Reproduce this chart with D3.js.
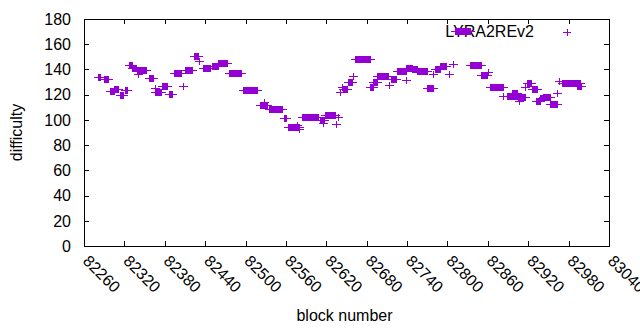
<!DOCTYPE html>
<html lang="en">
<head>
    <meta charset="UTF-8">
    <title>difficulty</title>
    <script src="https://d3js.org/d3.v7.min.js"></script>
    <style>
        body { margin: 0; background: #fff; }
        text { font-family: "Liberation Sans", Arial, sans-serif; font-size: 16px; fill: #000; }
    </style>
</head>
<body>
    <svg width="640" height="330"></svg>
    <script>
        // runs of consecutive blocks with the same difficulty: [first block, last block, difficulty]
        var blockStart = [82281, 82290, 82299, 82305, 82313, 82321, 82327, 82331, 82339, 82340,
            82357, 82365, 82366, 82376, 82386, 82394, 82407, 82410, 82423, 82431,
            82437, 82450, 82459, 82475, 82496, 82521, 82528, 82535, 82557, 82563,
            82576, 82580, 82584, 82610, 82615, 82618, 82634, 82637, 82640, 82644,
            82645, 82652, 82660, 82663, 82685, 82689, 82695, 82713, 82716, 82725,
            82738, 82738, 82747, 82755, 82770, 82778, 82781, 82789, 82802, 82808,
            82811, 82833, 82850, 82860, 82863, 82882, 82888, 82896, 82905, 82906,
            82915, 82918, 82926, 82932, 82938, 82942, 82952, 82963, 82966, 82970, 82993];
        var blockEnd = [82284, 82296, 82305, 82311, 82318, 82324, 82331, 82337, 82352, 82340,
            82363, 82365, 82374, 82383, 82391, 82404, 82407, 82420, 82429, 82431,
            82447, 82459, 82472, 82493, 82517, 82532, 82528, 82554, 82560, 82579,
            82576, 82580, 82607, 82616, 82615, 82633, 82634, 82637, 82640, 82644,
            82651, 82658, 82660, 82685, 82689, 82695, 82712, 82713, 82724, 82738,
            82738, 82747, 82755, 82769, 82778, 82778, 82789, 82798, 82802, 82808,
            82833, 82850, 82859, 82860, 82882, 82882, 82903, 82903, 82915, 82906,
            82915, 82924, 82933, 82938, 82942, 82952, 82963, 82963, 82966, 82997, 82999];
        var difficulty = [134, 132.5, 123, 124.5, 119.5, 123.7, 143.5, 141, 139.3, 136.4,
            133.2, 125.5, 122.4, 127, 120.8, 137.2, 127, 139.3, 151, 146.7,
            141, 143, 144.8, 137, 123.7, 111.8, 114.4, 108.6, 101.3, 94.7,
            96, 92.5, 101.9, 100, 97.3, 103.9, 96.7, 102.5, 122.4, 125.8,
            124.2, 130.3, 134.8, 148, 125.8, 129.8, 135, 127.4, 132.4, 138.8,
            131.6, 141, 140.4, 138.8, 125, 136.4, 140.5, 143, 136.4, 144.3,
            170.5, 143.5, 135.6, 138.2, 125.8, 119, 119, 121, 118.4, 115.2,
            126.3, 129, 124.2, 115, 117, 118.4, 112.6, 121, 130.8, 129, 127];
        var xTicks = [82260, 82320, 82380, 82440, 82500, 82560, 82620, 82680, 82740, 82800, 82860, 82920, 82980, 83040];
        var yTicks = [0, 20, 40, 60, 80, 100, 120, 140, 160, 180];
        var seriesName = 'LYRA2REv2';

        var color = '#9400d3';
        var plotLeft = 84, plotRight = 609, plotTop = 19, plotBottom = 246;
        var svg = d3.select('svg');

        var x = d3.scaleLinear().domain([82260, 83040]).range([plotLeft, plotRight]);
        var y = d3.scaleLinear().domain([0, 180]).range([plotBottom, plotTop]);

        // ticks on all four sides, pointing inwards
        svg.append('g').attr('transform', 'translate(0,' + plotBottom + ')')
            .call(d3.axisBottom(x).tickValues(xTicks).tickSize(-5).tickFormat(''));
        svg.append('g').attr('transform', 'translate(0,' + plotTop + ')')
            .call(d3.axisTop(x).tickValues(xTicks).tickSize(-5).tickFormat(''));
        svg.append('g').attr('transform', 'translate(' + plotLeft + ',0)')
            .call(d3.axisLeft(y).tickValues(yTicks).tickSize(-5).tickFormat(''));
        svg.append('g').attr('transform', 'translate(' + plotRight + ',0)')
            .call(d3.axisRight(y).tickValues(yTicks).tickSize(-5).tickFormat(''));
        svg.selectAll('.domain').remove();
        svg.selectAll('.tick line').attr('stroke', '#000').attr('shape-rendering', 'crispEdges');

        svg.append('rect')
            .attr('x', plotLeft + 0.5).attr('y', plotTop + 0.5)
            .attr('width', plotRight - plotLeft).attr('height', plotBottom - plotTop)
            .attr('fill', 'none').attr('stroke', '#000').attr('shape-rendering', 'crispEdges');

        svg.append('g').selectAll('text').data(yTicks)
            .enter().append('text')
            .attr('x', plotLeft - 13)
            .attr('y', d => y(d))
            .attr('dy', '0.36em')
            .style('text-anchor', 'end')
            .text(d => d);

        svg.append('g').selectAll('text').data(xTicks)
            .enter().append('text')
            .attr('transform', d => 'translate(' + (x(d) - 2) + ',' + (plotBottom + 16) + ') rotate(45)')
            .style('text-anchor', 'start')
            .text(d => d);

        svg.append('text')
            .attr('transform', 'translate(22,' + ((plotTop + plotBottom) / 2) + ') rotate(-90)')
            .style('text-anchor', 'middle')
            .text('difficulty');
        svg.append('text')
            .attr('x', (plotLeft + plotRight) / 2 - 2).attr('y', 321)
            .style('text-anchor', 'middle')
            .text('block number');

        // legend
        svg.append('text')
            .attr('x', 534).attr('y', 31).attr('dy', '0.36em')
            .style('text-anchor', 'end')
            .text(seriesName);
        svg.append('path')
            .attr('d', 'M563,32.5h8M567.5,29v7')
            .attr('stroke', color).attr('fill', 'none');

        // each run of blocks: the "+" markers of consecutive blocks merge into a bar
        var runs = d3.range(blockStart.length);
        var g = svg.append('g').attr('shape-rendering', 'crispEdges');
        g.selectAll('rect').data(runs)
            .enter().append('rect')
            .attr('x', i => Math.round(x(blockStart[i])) - 0.5)
            .attr('width', i => Math.max(1, Math.round(x(blockEnd[i])) - Math.round(x(blockStart[i])) + 1))
            .attr('y', i => Math.round(y(difficulty[i])) - 3.5)
            .attr('height', 7)
            .attr('fill', color);
        g.selectAll('line').data(runs)
            .enter().append('line')
            .attr('x1', i => Math.round(x(blockStart[i])) - 4)
            .attr('x2', i => Math.round(x(blockEnd[i])) + 5)
            .attr('y1', i => Math.round(y(difficulty[i])) + 0.5)
            .attr('y2', i => Math.round(y(difficulty[i])) + 0.5)
            .attr('stroke', color);
    </script>
</body>
</html>
